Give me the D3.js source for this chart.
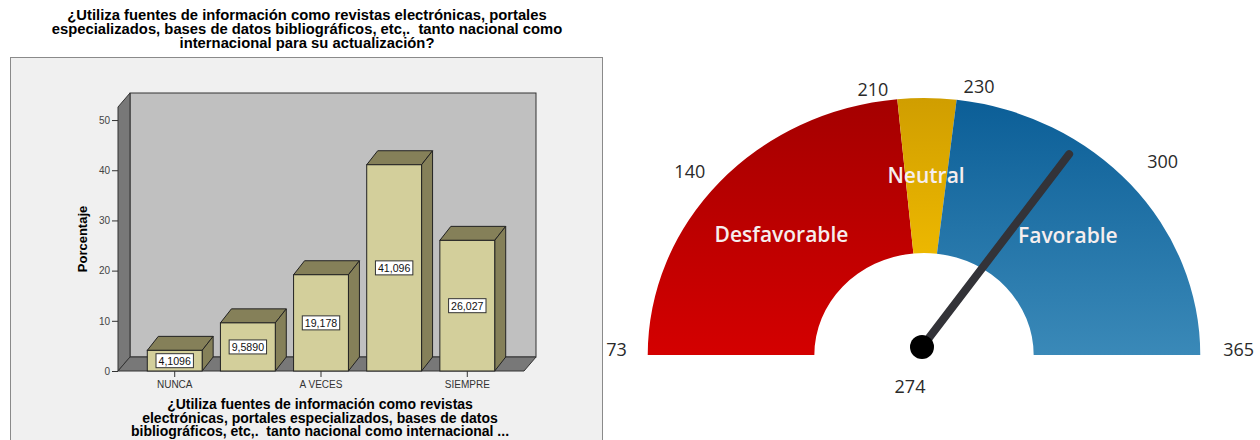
<!DOCTYPE html>
<html>
<head>
<meta charset="utf-8">
<script src="https://cdn.jsdelivr.net/npm/d3@7/dist/d3.min.js"></script>
<style>
  html, body { margin: 0; padding: 0; background: #fff; }
  svg { display: block; }
  text { white-space: pre; }
</style>
</head>
<body>
<svg id="chart" width="1260" height="440"></svg>
<script>
// ---------------- DATA ----------------
const titleLines = [
  "¿Utiliza fuentes de información como revistas electrónicas, portales",
  "especializados, bases de datos bibliográficos, etc,.  tanto nacional como",
  "internacional para su actualización?"
];
const xTitleLines = [
  "¿Utiliza fuentes de información como revistas",
  "electrónicas, portales especializados, bases de datos",
  "bibliográficos, etc,.  tanto nacional como internacional ..."
];
const yTitle = "Porcentaje";
const categories = ["NUNCA", "CASI NUNCA", "A VECES", "CASI SIEMPRE", "SIEMPRE"];
const tickLabels = ["NUNCA", "", "A VECES", "", "SIEMPRE"];
const values = [4.1096, 9.5890, 19.178, 41.096, 26.027];
const valueLabels = ["4,1096", "9,5890", "19,178", "41,096", "26,027"];
const yTicks = [0, 10, 20, 30, 40, 50];

const gaugeBreaks = [73, 210, 230, 365];
const gaugeBands = ["Desfavorable", "Neutral", "Favorable"];
const gaugeTicks = [73, 140, 210, 230, 300, 365];
const needleValue = 274;
const needleLabel = "274";

// ---------------- SETUP ----------------
const svg = d3.select("#chart");
const FONT = "'Liberation Sans', Arial, sans-serif";

// ============ LEFT: 3D BAR CHART ============
const left = svg.append("g");
left.append("g").selectAll("text").data(titleLines).join("text")
  .attr("x", 307).attr("y", (d, i) => 19.5 + i * 14.3)
  .attr("text-anchor", "middle")
  .attr("font-family", FONT).attr("font-size", 14.8).attr("font-weight", "bold").attr("fill", "#000")
  .text(d => d);

left.append("rect").attr("x", 10.5).attr("y", 57.5).attr("width", 592).attr("height", 400)
  .attr("fill", "#f0f0f0").attr("stroke", "#8a8a8a").attr("stroke-width", 1);

const y = d3.scaleLinear().domain([0, 52.6]).range([371, 107]);
const x = d3.scaleBand().domain(categories).range([129, 513]).paddingInner(0.25).paddingOuter(0.25);
const fL = 118, fR = 524, dX = 12, dY = -14;
const y0 = y(0), yTop = y(52.6);

// back wall
left.append("rect").attr("x", fL + dX).attr("y", yTop + dY).attr("width", fR - fL)
  .attr("height", y0 - yTop).attr("fill", "#c0c0c0").attr("stroke", "#333").attr("stroke-width", 1);
// side wall
left.append("polygon")
  .attr("points", [[fL, yTop], [fL + dX, yTop + dY], [fL + dX, y0 + dY], [fL, y0]].join(" "))
  .attr("fill", "#787878").attr("stroke", "#333").attr("stroke-width", 1);
// floor
left.append("polygon")
  .attr("points", [[fL, y0], [fL + dX, y0 + dY], [fR + dX, y0 + dY], [fR, y0]].join(" "))
  .attr("fill", "#787878").attr("stroke", "#333").attr("stroke-width", 1);

// bars
const bdX = 11, bdY = -14;
const bars = left.append("g").selectAll("g").data(values).join("g");
bars.each(function (v, i) {
  const g = d3.select(this);
  const x0 = x(categories[i]), w = x.bandwidth(), yv = y(v);
  g.append("polygon")
    .attr("points", [[x0, yv], [x0 + bdX, yv + bdY], [x0 + w + bdX, yv + bdY], [x0 + w, yv]].join(" "))
    .attr("fill", "#858059").attr("stroke", "#222").attr("stroke-width", 1);
  g.append("polygon")
    .attr("points", [[x0 + w, yv], [x0 + w + bdX, yv + bdY], [x0 + w + bdX, y0 + bdY], [x0 + w, y0]].join(" "))
    .attr("fill", "#858059").attr("stroke", "#222").attr("stroke-width", 1);
  g.append("rect").attr("x", x0).attr("y", yv).attr("width", w).attr("height", y0 - yv)
    .attr("fill", "#d3cf9b").attr("stroke", "#222").attr("stroke-width", 1);
  const cxm = x0 + w / 2, cym = (yv + y0) / 2;
  const t = g.append("text").attr("x", cxm).attr("y", cym + 4)
    .attr("text-anchor", "middle").attr("font-family", FONT).attr("font-size", 10.6)
    .attr("fill", "#111").text(valueLabels[i]);
  const tw = t.node().getComputedTextLength();
  g.insert("rect", "text").attr("x", cxm - tw / 2 - 2.5).attr("y", cym - 7)
    .attr("width", tw + 5).attr("height", 14)
    .attr("fill", "#fff").attr("stroke", "#333").attr("stroke-width", 1);
});

// y axis
const yAxis = d3.axisLeft(y).tickValues(yTicks).tickSize(6).tickPadding(2);
const ya = left.append("g").attr("transform", `translate(${fL},0)`).call(yAxis);
ya.select(".domain").remove();
ya.selectAll("line").attr("stroke", "#333");
ya.selectAll("text").attr("font-family", FONT).attr("font-size", 10).attr("fill", "#444");

// x axis
const xAxis = d3.axisBottom(x).tickSize(6).tickPadding(4).tickFormat((d, i) => tickLabels[i]);
const xa = left.append("g").attr("transform", `translate(0,${y0})`).call(xAxis);
xa.select(".domain").remove();
xa.selectAll(".tick").filter((d, i) => tickLabels[i] === "").select("line").remove();
xa.selectAll("line").attr("stroke", "#333");
xa.selectAll("text").attr("font-family", FONT).attr("font-size", 10).attr("fill", "#333");

// axis titles
left.append("text").attr("transform", "translate(87,239) rotate(-90)")
  .attr("text-anchor", "middle").attr("font-family", FONT).attr("font-size", 13)
  .attr("font-weight", "bold").attr("fill", "#000").text(yTitle);
left.append("g").selectAll("text").data(xTitleLines).join("text")
  .attr("x", 320).attr("y", (d, i) => 409 + i * 13.6)
  .attr("text-anchor", "middle").attr("font-family", FONT).attr("font-size", 14)
  .attr("font-weight", "bold").attr("fill", "#000").text(d => d);

// ============ RIGHT: GAUGE ============
const cx = 924, cy = 355, sx = 1.075, rOut = 257, rIn = 102;
const GFONT = "'Open Sans', 'DejaVu Sans', sans-serif";
const ang = d3.scaleLinear().domain([gaugeBreaks[0], gaugeBreaks[gaugeBreaks.length - 1]])
  .range([-Math.PI / 2, Math.PI / 2]);

const defs = svg.append("defs");
const gradStops = [["#a40000", "#d40000"], ["#d09e00", "#ffc800"], ["#0b5e97", "#3a89b8"]];
gradStops.forEach((s, i) => {
  const lg = defs.append("linearGradient").attr("id", "g" + i)
    .attr("gradientUnits", "userSpaceOnUse")
    .attr("x1", 0).attr("y1", -rOut).attr("x2", 0).attr("y2", 0);
  lg.append("stop").attr("offset", 0).attr("stop-color", s[0]);
  lg.append("stop").attr("offset", 1).attr("stop-color", s[1]);
});

const arc = d3.arc().innerRadius(rIn).outerRadius(rOut);
const gArc = svg.append("g").attr("transform", `translate(${cx},${cy}) scale(${sx},1)`);
gArc.selectAll("path").data(gaugeBands).join("path")
  .attr("d", (d, i) => arc({ startAngle: ang(gaugeBreaks[i]), endAngle: ang(gaugeBreaks[i + 1]) }))
  .attr("fill", (d, i) => `url(#g${i})`);

const polar = (v, r) => {
  const a = ang(v);
  return [cx + sx * r * Math.sin(a), cy - r * Math.cos(a)];
};

// band labels
svg.append("g").selectAll("text").data(gaugeBands).join("text")
  .attr("x", (d, i) => polar((gaugeBreaks[i] + gaugeBreaks[i + 1]) / 2, 179)[0])
  .attr("y", (d, i) => polar((gaugeBreaks[i] + gaugeBreaks[i + 1]) / 2, 179)[1] + 7)
  .attr("text-anchor", "middle").attr("font-family", GFONT).attr("font-size", 21)
  .attr("font-weight", 600).attr("fill", "#f6eeee").text(d => d);

// tick labels
const vMin = gaugeTicks[0], vMax = gaugeTicks[gaugeTicks.length - 1];
svg.append("g").selectAll("text").data(gaugeTicks).join("text")
  .each(function (v) {
    const t = d3.select(this);
    const a = ang(v);
    if (v === vMin || v === vMax) {
      const p = polar(v, rOut);
      t.attr("x", p[0] + (v === vMin ? -21 : 23)).attr("y", p[1] + 1)
        .attr("text-anchor", v === vMin ? "end" : "start");
    } else if (Math.abs(a) < 0.3) {
      const p = polar(v, rOut);
      t.attr("x", p[0] + (a < 0 ? -9 : 7)).attr("y", p[1] + (a < 0 ? -3 : -7))
        .attr("text-anchor", a < 0 ? "end" : "start");
    } else {
      const p = polar(v, 290);
      t.attr("x", p[0]).attr("y", p[1] + (a < 0 ? 14 : 0)).attr("text-anchor", "middle");
    }
  })
  .attr("font-family", GFONT).attr("font-size", 18).attr("fill", "#2a2a2a")
  .text(d => d);

// needle
const kx = cx - 2, ky = cy - 8;
const tip = polar(needleValue, 242);
svg.append("line").attr("x1", kx).attr("y1", ky).attr("x2", tip[0]).attr("y2", tip[1])
  .attr("stroke", "#333338").attr("stroke-width", 8).attr("stroke-linecap", "round");
svg.append("circle").attr("cx", kx).attr("cy", ky).attr("r", 12).attr("fill", "#000");

svg.append("text").attr("x", cx - 14).attr("y", 393).attr("text-anchor", "middle")
  .attr("font-family", GFONT).attr("font-size", 18).attr("fill", "#2a2a2a").text(needleLabel);
</script>
</body>
</html>
